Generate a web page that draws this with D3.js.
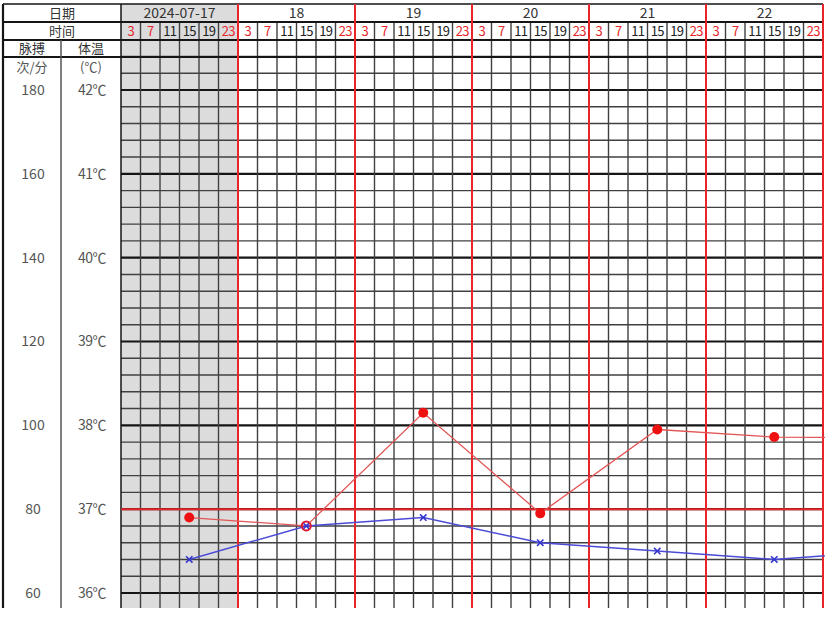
<!DOCTYPE html>
<html>
<head>
<meta charset="utf-8">
<script src="https://cdn.jsdelivr.net/npm/d3@7/dist/d3.min.js"></script>
<style>
  html, body { margin: 0; padding: 0; background: #ffffff; }
  svg { display: block; font-family: "Noto Sans CJK SC", "Noto Sans", sans-serif; }
</style>
</head>
<body>
<svg id="chart" width="834" height="617"></svg>
<script>
// ---------- data ----------
const days = ["2024-07-17", "18", "19", "20", "21", "22"];
const times = [3, 7, 11, 15, 19, 23];
const pulseTicks = [180, 160, 140, 120, 100, 80, 60];
const tempTicks = [42, 41, 40, 39, 38, 37, 36];
// records: day index (0 = 07-17), time of day
const recDay = [0, 1, 2, 3, 4, 5, 6];
const recTime = [15, 15, 15, 15, 15, 15, 15];
const temperature = [36.9, 36.8, 38.15, 36.95, 37.95, 37.86, 37.85];
const pulse = [68, 76, 78, 72, 70, 68, 70];

// ---------- layout ----------
const L = 3, DIV = 61, GX0 = 121, GX1 = 823;
const TOP = 4, R1 = 22, R2 = 40, R3 = 57, BOT = 608;
const nCols = days.length * times.length;

const svg = d3.select("#chart");
const x = d3.scaleLinear().domain([0, nCols]).range([GX0, GX1]);
const yT = d3.scaleLinear().domain([36, 42]).range([593, 90]);
const yP = d3.scaleLinear().domain([60, 180]).range([593, 90]);
const colIdx = (d, t) => d * times.length + times.indexOf(t);

// shaded first day
svg.append("rect").attr("x", x(0)).attr("y", TOP).attr("width", x(times.length) - x(0))
  .attr("height", BOT - TOP).attr("fill", "#dcdcdc");

const thin = "#404040", thick = "#151515";

// horizontal grid lines (every 0.2 ℃)
const hLines = d3.range(0, 34).map(i => +(36 + i * 0.2).toFixed(1));
svg.append("g").selectAll("line").data(hLines).join("line")
  .attr("x1", GX0).attr("x2", GX1)
  .attr("y1", d => yT(d)).attr("y2", d => yT(d))
  .attr("stroke", d => Math.abs(d - Math.round(d)) < 1e-6 ? thick : thin)
  .attr("stroke-width", d => Math.abs(d - Math.round(d)) < 1e-6 ? 2.2 : 1.4);

// vertical grid lines (time columns)
svg.append("g").selectAll("line").data(d3.range(1, nCols).filter(i => i % times.length !== 0)).join("line")
  .attr("x1", d => x(d)).attr("x2", d => x(d))
  .attr("y1", R1).attr("y2", BOT)
  .attr("stroke", thin).attr("stroke-width", 1.4);

// header horizontal lines
[TOP, R1, R2, R3].forEach(yy => {
  svg.append("line").attr("x1", L).attr("x2", GX1).attr("y1", yy).attr("y2", yy)
    .attr("stroke", thick).attr("stroke-width", yy === TOP ? 1.5 : 2.2);
});

// left frame lines
svg.append("line").attr("x1", L).attr("x2", L).attr("y1", TOP).attr("y2", BOT).attr("stroke", thick).attr("stroke-width", 2.2);
svg.append("line").attr("x1", DIV).attr("x2", DIV).attr("y1", R2).attr("y2", BOT).attr("stroke", "#555").attr("stroke-width", 1.5);
svg.append("line").attr("x1", GX0).attr("x2", GX0).attr("y1", TOP).attr("y2", BOT).attr("stroke", thick).attr("stroke-width", 1.5);

// red 37℃ line
svg.append("line").attr("x1", GX0).attr("x2", GX1).attr("y1", yT(37)).attr("y2", yT(37))
  .attr("stroke", "#e8262a").attr("stroke-width", 2);

// red day boundaries
svg.append("g").selectAll("line").data(d3.range(1, days.length + 1)).join("line")
  .attr("x1", d => x(d * times.length)).attr("x2", d => x(d * times.length))
  .attr("y1", TOP).attr("y2", BOT)
  .attr("stroke", "#e8262a").attr("stroke-width", 2);

// header texts
const hdr = svg.append("g").attr("fill", "#333").attr("font-size", 13).attr("text-anchor", "middle");
hdr.append("text").attr("x", (L + GX0) / 2).attr("y", (TOP + R1) / 2).attr("dy", "0.35em").text("日期");
hdr.append("text").attr("x", (L + GX0) / 2).attr("y", (R1 + R2) / 2).attr("dy", "0.35em").text("时间");
hdr.append("text").attr("x", (L + DIV) / 2).attr("y", (R2 + R3) / 2).attr("dy", "0.35em").text("脉搏");
hdr.append("text").attr("x", (DIV + GX0) / 2).attr("y", (R2 + R3) / 2).attr("dy", "0.35em").text("体温");
hdr.append("text").attr("x", (L + DIV) / 2).attr("y", 67).attr("dy", "0.35em").attr("fill", "#555").text("次/分");
hdr.append("text").attr("x", (DIV + GX0) / 2).attr("y", 67).attr("dy", "0.35em").attr("fill", "#555").text("(℃)");

// day labels
svg.append("g").selectAll("text").data(days).join("text")
  .attr("x", (d, i) => x((i + 0.5) * times.length)).attr("y", (TOP + R1) / 2).attr("dy", "0.36em")
  .attr("text-anchor", "middle").attr("font-size", 14).attr("fill", "#333").text(d => d);

// time labels
const timeCells = d3.cross(d3.range(days.length), times);
svg.append("g").selectAll("text").data(timeCells).join("text")
  .attr("x", d => x(colIdx(d[0], d[1]) + 0.5)).attr("y", (R1 + R2) / 2).attr("dy", "0.36em")
  .attr("text-anchor", "middle").attr("font-size", 13)
  .attr("letter-spacing", -0.6)
  .attr("fill", d => (d[1] <= 7 || d[1] >= 23) ? "#e8262a" : "#222").text(d => d[1]);

// axis labels
svg.append("g").selectAll("text").data(pulseTicks).join("text")
  .attr("x", (L + DIV) / 2 + 1).attr("y", d => yP(d)).attr("dy", "0.35em")
  .attr("text-anchor", "middle").attr("font-size", 14).attr("fill", "#555").text(d => d);
svg.append("g").selectAll("text").data(tempTicks).join("text")
  .attr("x", (DIV + GX0) / 2 + 1).attr("y", d => yT(d)).attr("dy", "0.35em")
  .attr("text-anchor", "middle").attr("font-size", 14).attr("fill", "#555").attr("letter-spacing", -0.5).text(d => d + "℃");

// data
svg.append("clipPath").attr("id", "clip").append("rect")
  .attr("x", GX0).attr("y", R2).attr("width", GX1 - GX0 + 2).attr("height", BOT - R2);
const plot = svg.append("g").attr("clip-path", "url(#clip)");
const recs = recDay.map((d, i) => ({ cx: x(colIdx(d, recTime[i]) + 0.5), t: temperature[i], p: pulse[i] }));

plot.append("path").datum(recs)
  .attr("d", d3.line().x(d => d.cx).y(d => yT(d.t)))
  .attr("fill", "none").attr("stroke", "#e35555").attr("stroke-width", 1.3);
plot.append("path").datum(recs)
  .attr("d", d3.line().x(d => d.cx).y(d => yP(d.p)))
  .attr("fill", "none").attr("stroke", "#4b4bd6").attr("stroke-width", 1.5);

// pulse crosses
const s = 3.2;
plot.append("g").selectAll("path").data(recs).join("path")
  .attr("d", d => `M${d.cx - s},${yP(d.p) - s}L${d.cx + s},${yP(d.p) + s}M${d.cx - s},${yP(d.p) + s}L${d.cx + s},${yP(d.p) - s}`)
  .attr("stroke", "#3535d0").attr("stroke-width", 1.6);

// temperature dots (ring when coincident with pulse)
plot.append("g").selectAll("circle").data(recs).join("circle")
  .attr("cx", d => d.cx).attr("cy", d => yT(d.t))
  .attr("r", d => Math.abs(yT(d.t) - yP(d.p)) < 3 ? 4.5 : 5)
  .attr("fill", d => Math.abs(yT(d.t) - yP(d.p)) < 3 ? "none" : "#ee1111")
  .attr("stroke", d => Math.abs(yT(d.t) - yP(d.p)) < 3 ? "#e01a3a" : "none")
  .attr("stroke-width", 2);
</script>
</body>
</html>
